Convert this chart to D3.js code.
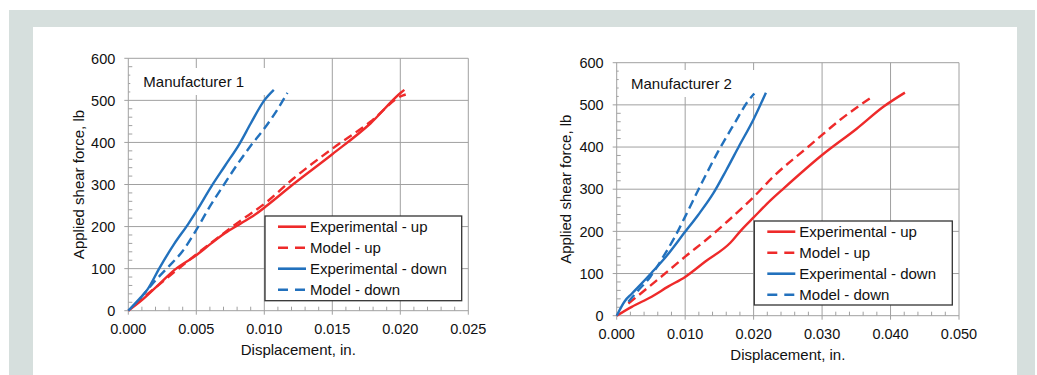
<!DOCTYPE html>
<html>
<head>
<meta charset="utf-8">
<title>Shear force vs displacement</title>
<script src="https://d3js.org/d3.v7.min.js"></script>
<style>
  body { margin: 0; background: #fff; }
  svg text { font-family: "Liberation Sans", Arial, sans-serif; fill: #111; }
</style>
</head>
<body>
<svg id="fig" width="1037" height="375"></svg>
<script>
// ---- data: [displacement (in.), force (lb)] ----
m1_exp_up = [[0,0],[0.001,25],[0.0022,61],[0.0034,97],[0.005,132],[0.0061,160],[0.0071,184],[0.0083,208],
             [0.0093,228],[0.0102,250],[0.0121,300],[0.0150,372],[0.0178,445],[0.0201,520],[0.0203,525]];
m1_model_up = [[0.0005,15],[0.002,55],[0.005,134],[0.008,208],[0.0102,259],[0.0121,313],[0.0150,385],
               [0.0178,449],[0.0202,512],[0.0204,514]];
m1_exp_down = [[0,0],[0.0009,31],[0.0014,50],[0.0023,102],[0.0034,160],[0.0044,206],[0.005,236],[0.0061,295],
               [0.0071,344],[0.0082,398],[0.009,445],[0.010,500],[0.0107,525]];
m1_model_down = [[0.0009,30],[0.002,72],[0.003,106],[0.004,142],[0.005,192],[0.006,248],[0.007,298],
                 [0.008,347],[0.009,392],[0.010,433],[0.011,480],[0.0117,518]];

m2_exp_up = [[0,0],[0.0022,21],[0.0051,45],[0.0075,69],[0.010,92],[0.0129,128],[0.0166,173],[0.0182,203],
             [0.0200,233],[0.0225,274],[0.0244,302],[0.030,381],[0.0351,444],[0.039,496],[0.0421,529]];
m2_model_up = [[0.0017,29],[0.0046,67],[0.0075,106],[0.010,140],[0.0133,183],[0.0162,224],[0.0199,280],
               [0.0229,330],[0.0283,405],[0.0326,464],[0.0373,519]];
m2_exp_down = [[0,0],[0.0012,35],[0.0022,52],[0.0032,69],[0.0051,102],[0.0071,138],[0.010,199],[0.0119,239],
               [0.0141,290],[0.016,345],[0.0179,403],[0.020,466],[0.0218,529]];
m2_model_down = [[0.0017,33],[0.0032,61],[0.0049,92],[0.0068,140],[0.0085,187],[0.010,235],[0.0124,314],
                 [0.0148,389],[0.0172,456],[0.0191,507],[0.0201,527]];

series_names = ["Experimental - up", "Model - up", "Experimental - down", "Model - down"];
y_ticks = [0, 100, 200, 300, 400, 500, 600];
x_ticks_1 = [0, 0.005, 0.010, 0.015, 0.020, 0.025];
x_ticks_2 = [0, 0.010, 0.020, 0.030, 0.040, 0.050];

red = "#ee2a2a";
blue = "#2271bd";
grid = "#a0a0a0";

svg = d3.select("#fig");

// panel background
svg.append("rect").attr("x", 9).attr("y", 10).attr("width", 1026).attr("height", 365).attr("fill", "#d6dfdd");
svg.append("rect").attr("x", 33).attr("y", 27).attr("width", 984).attr("height", 348).attr("fill", "#fff");

function drawChart(c) {
    x = d3.scaleLinear().domain([0, c.xmax]).range([c.left, c.right]);
    y = d3.scaleLinear().domain([0, 600]).range([c.bottom, c.top]);
    g = svg.append("g");

    // horizontal grid + y major ticks
    g.selectAll(".hg").data(y_ticks).enter().append("line")
        .attr("x1", c.left - 4).attr("x2", c.right)
        .attr("y1", d => y(d)).attr("y2", d => y(d))
        .attr("stroke", grid).attr("stroke-width", 1);
    // vertical grid + x major ticks
    g.selectAll(".vg").data(c.xticks).enter().append("line")
        .attr("x1", d => x(d)).attr("x2", d => x(d))
        .attr("y1", c.top).attr("y2", c.bottom + 4)
        .attr("stroke", grid).attr("stroke-width", 1);

    // minor ticks
    yminor = d3.range(20, 600, 20).filter(v => v % 100 != 0);
    g.selectAll(".ym").data(yminor).enter().append("line")
        .attr("x1", c.left).attr("x2", c.left + 4)
        .attr("y1", d => y(d)).attr("y2", d => y(d))
        .attr("stroke", grid);
    xminor = d3.range(1, Math.round(c.xmax / c.xminor)).map(i => i * c.xminor)
        .filter((d, i) => (i + 1) % 5 != 0);
    g.selectAll(".xm").data(xminor).enter().append("line")
        .attr("x1", d => x(d)).attr("x2", d => x(d))
        .attr("y1", c.bottom).attr("y2", c.bottom - 4)
        .attr("stroke", grid);

    // white box behind the title text
    g.append("rect").attr("x", c.left + 2).attr("y", c.boxTop).attr("width", c.boxW).attr("height", 27)
        .attr("fill", "#fff");
    g.append("text").attr("x", c.titleX).attr("y", c.titleY).attr("font-size", 15).text(c.title);

    // tick labels
    g.selectAll(".yl").data(y_ticks).enter().append("text")
        .attr("x", c.left - 13).attr("y", d => y(d)).attr("dy", "0.36em")
        .attr("text-anchor", "end").attr("font-size", 14.5).text(d => d);
    g.selectAll(".xl").data(c.xticks).enter().append("text")
        .attr("x", d => x(d)).attr("y", c.bottom + 23)
        .attr("text-anchor", "middle").attr("font-size", 14.5).text(d => d3.format(".3f")(d));

    // axis titles
    g.append("text").attr("x", (c.left + c.right) / 2).attr("y", c.xTitleY)
        .attr("text-anchor", "middle").attr("font-size", 15).text("Displacement, in.");
    g.append("text").attr("transform", `translate(${c.yTitleX},${(c.top + c.bottom) / 2}) rotate(-90)`)
        .attr("text-anchor", "middle").attr("font-size", 15).text("Applied shear force, lb");

    // series
    line = d3.line().x(d => x(d[0])).y(d => y(d[1])).curve(d3.curveMonotoneX);
    styles = [[red, null], [red, "9,5"], [blue, null], [blue, "9,5"]];
    c.series.forEach(function(s, i) {
        g.append("path").datum(s)
            .attr("fill", "none").attr("stroke", styles[i][0]).attr("stroke-width", 2.4)
            .attr("stroke-dasharray", styles[i][1]).attr("d", line);
    });

    // legend
    lg = g.append("g");
    lg.append("rect").attr("x", c.leg.x).attr("y", c.leg.y).attr("width", c.leg.w).attr("height", c.leg.h)
        .attr("fill", "#fff").attr("stroke", "#333").attr("stroke-width", 1.3);
    series_names.forEach(function(name, i) {
        ry = c.leg.y + 10.7 + i * 21;
        lg.append("line").attr("x1", c.leg.x + 13).attr("x2", c.leg.x + 41)
            .attr("y1", ry).attr("y2", ry)
            .attr("stroke", styles[i][0]).attr("stroke-width", 2.6)
            .attr("stroke-dasharray", styles[i][1] ? "10,7" : null);
        lg.append("text").attr("x", c.leg.x + 45).attr("y", ry).attr("dy", "0.36em")
            .attr("font-size", 15).text(name);
    });
}

drawChart({
    xmax: 0.025, xticks: x_ticks_1, xminor: 0.001,
    left: 128.3, right: 468.3, top: 58.3, bottom: 310.7,
    title: "Manufacturer 1", titleX: 143.3, titleY: 87.3, boxTop: 68, boxW: 142,
    xTitleY: 355, yTitleX: 83.5,
    series: [m1_exp_up, m1_model_up, m1_exp_down, m1_model_down],
    leg: { x: 265, y: 216, w: 196.7, h: 84.7 }
});

drawChart({
    xmax: 0.050, xticks: x_ticks_2, xminor: 0.002,
    left: 616.7, right: 959, top: 62.7, bottom: 315.7,
    title: "Manufacturer 2", titleX: 631, titleY: 89.3, boxTop: 70, boxW: 155,
    xTitleY: 360, yTitleX: 571,
    series: [m2_exp_up, m2_model_up, m2_exp_down, m2_model_down],
    leg: { x: 754.3, y: 221, w: 198, h: 84 }
});
</script>
</body>
</html>
